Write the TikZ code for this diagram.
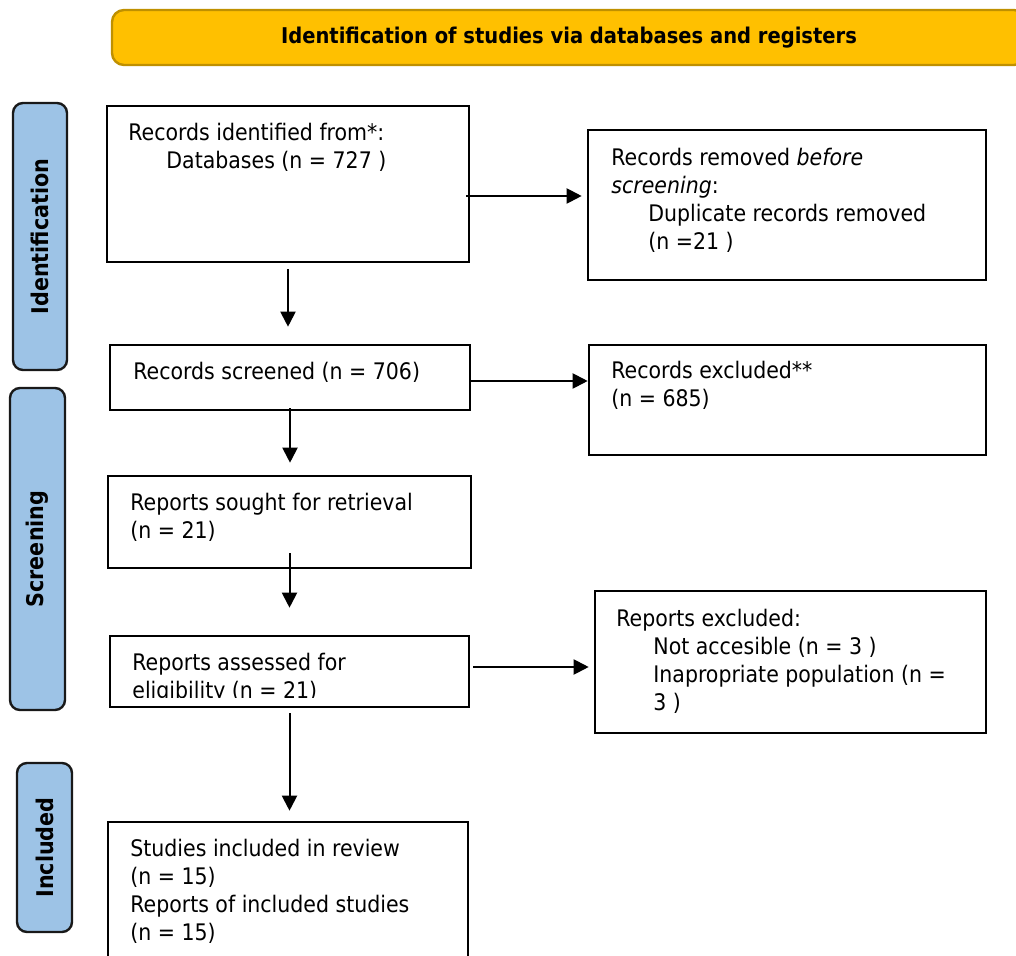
\documentclass[tikz,border=0pt]{standalone}
\usepackage{fontspec}
\setmainfont{DejaVu Sans Condensed}
\usetikzlibrary{arrows.meta,positioning,fit}
\definecolor{headgold}{HTML}{FFC000}
\definecolor{headedge}{HTML}{BF9000}
\definecolor{phaseblue}{HTML}{9DC3E6}

\begin{document}
\begin{tikzpicture}[
  x=0.5pt, y=-0.5pt,
  >={Triangle[length=7.5pt,width=7.5pt]},
  frame/.style={draw, line width=1.3pt, inner sep=0pt},
  txt/.style={anchor=north west, align=left, inner sep=0pt, font=\fontsize{11.4}{14}\selectfont},
  phase/.style={draw=black!90, fill=phaseblue, rounded corners=5pt, line width=1.2pt,
    rotate=90, inner sep=0pt, font=\fontsize{11.5}{13}\selectfont\bfseries},
  arr/.style={->, line width=1pt},
]
  \useasboundingbox (0,0) rectangle (1016,956);

  % Header bar
  \node[draw=headedge, fill=headgold, rounded corners=6pt, line width=1.2pt, inner sep=0pt,
    fit={(112,10) (1026,65)}] (head) {};
  \node[font=\fontsize{10.85}{13}\selectfont\bfseries, inner sep=0pt] (headTxt) at (head.center)
    {Identification of studies via databases and registers};

  % Phase labels (left)
  \node[phase, minimum width=133.5pt, minimum height=27pt] (phIdent) at (40,236.5) {Identification};
  \node[phase, minimum width=161pt, minimum height=27.5pt] (phScreen) at (37.5,549) {Screening};
  \node[phase, minimum width=84.5pt, minimum height=27.5pt] (phIncl) at (44.5,847.5) {Included};

  % Boxes
  \node[frame, fit={(107,106) (469,262)}] (ident) {};
  \node[frame, fit={(588,130) (986,280)}] (removed) {};
  \node[frame, fit={(110,345) (470,410)}] (screened) {};
  \node[frame, fit={(589,345) (986,455)}] (excluded) {};
  \node[frame, fit={(108,476) (471,568)}] (sought) {};
  \node[frame, fit={(110,636) (469,707)}] (assessed) {};
  \node[frame, fit={(595,591) (986,733)}] (reportsOut) {};
  \node[frame, fit={(108,822) (468,975)}] (included) {};

  % Box texts
  \node[txt] (identTxt) at (128,122.5) {Records identified from*:\\\hspace*{19pt}Databases (n = 727 )};
  \node[txt] (removedTxt) at (611,147.5) {Records removed \textit{before}\\\textit{screening}:\\
    \hspace*{18.5pt}Duplicate records removed\\\hspace*{18.5pt}(n =21 )};
  \node[txt] (screenedTxt) at (133,361.5) {Records screened (n = 706)};
  \node[txt] (excludedTxt) at (611,360.5) {Records excluded**\\(n = 685)};
  \node[txt] (soughtTxt) at (130,492.5) {Reports sought for retrieval\\(n = 21)};
  \begin{scope}
    \clip (assessed.north west) rectangle ([yshift=5.5pt]assessed.south east);
    \node[txt] (assessedTxt) at (132,652.5) {Reports assessed for\\eligibility (n = 21)};
  \end{scope}
  \node[txt] (reportsOutTxt) at (616,608.5) {Reports excluded:\\
    \hspace*{18.5pt}Not accesible (n = 3 )\\\hspace*{18.5pt}Inapropriate population (n =\\
    \hspace*{18.5pt}3 )};
  \node[txt] (includedTxt) at (130,838.5) {Studies included in review\\(n = 15)\\
    Reports of included studies\\(n = 15)};

  % Connectors
  \draw[arr, shorten <=3pt, shorten >=8.5pt] (ident.south) -- (ident.south |- screened.north);
  \draw[arr, shorten <=-1.5pt, shorten >=6pt] (screened.south) -- (screened.south |- sought.north);
  \draw[arr, shorten <=-8pt, shorten >=13.5pt] (sought.south) -- (sought.south |- assessed.north);
  \draw[arr, shorten <=2.5pt, shorten >=5pt] (assessed.south) -- (assessed.south |- included.north);

  \draw[arr, shorten <=-2pt, shorten >=2.5pt] ([yshift=-6pt]ident.east) -- ([yshift=-6pt]ident.east -| removed.west);
  \draw[arr] ([yshift=-1.75pt]screened.east) -- ([yshift=-1.75pt]screened.east -| excluded.west);
  \draw[arr, shorten <=1.5pt, shorten >=2.5pt] ([yshift=2.25pt]assessed.east) -- ([yshift=2.25pt]assessed.east -| reportsOut.west);
\end{tikzpicture}
\end{document}
